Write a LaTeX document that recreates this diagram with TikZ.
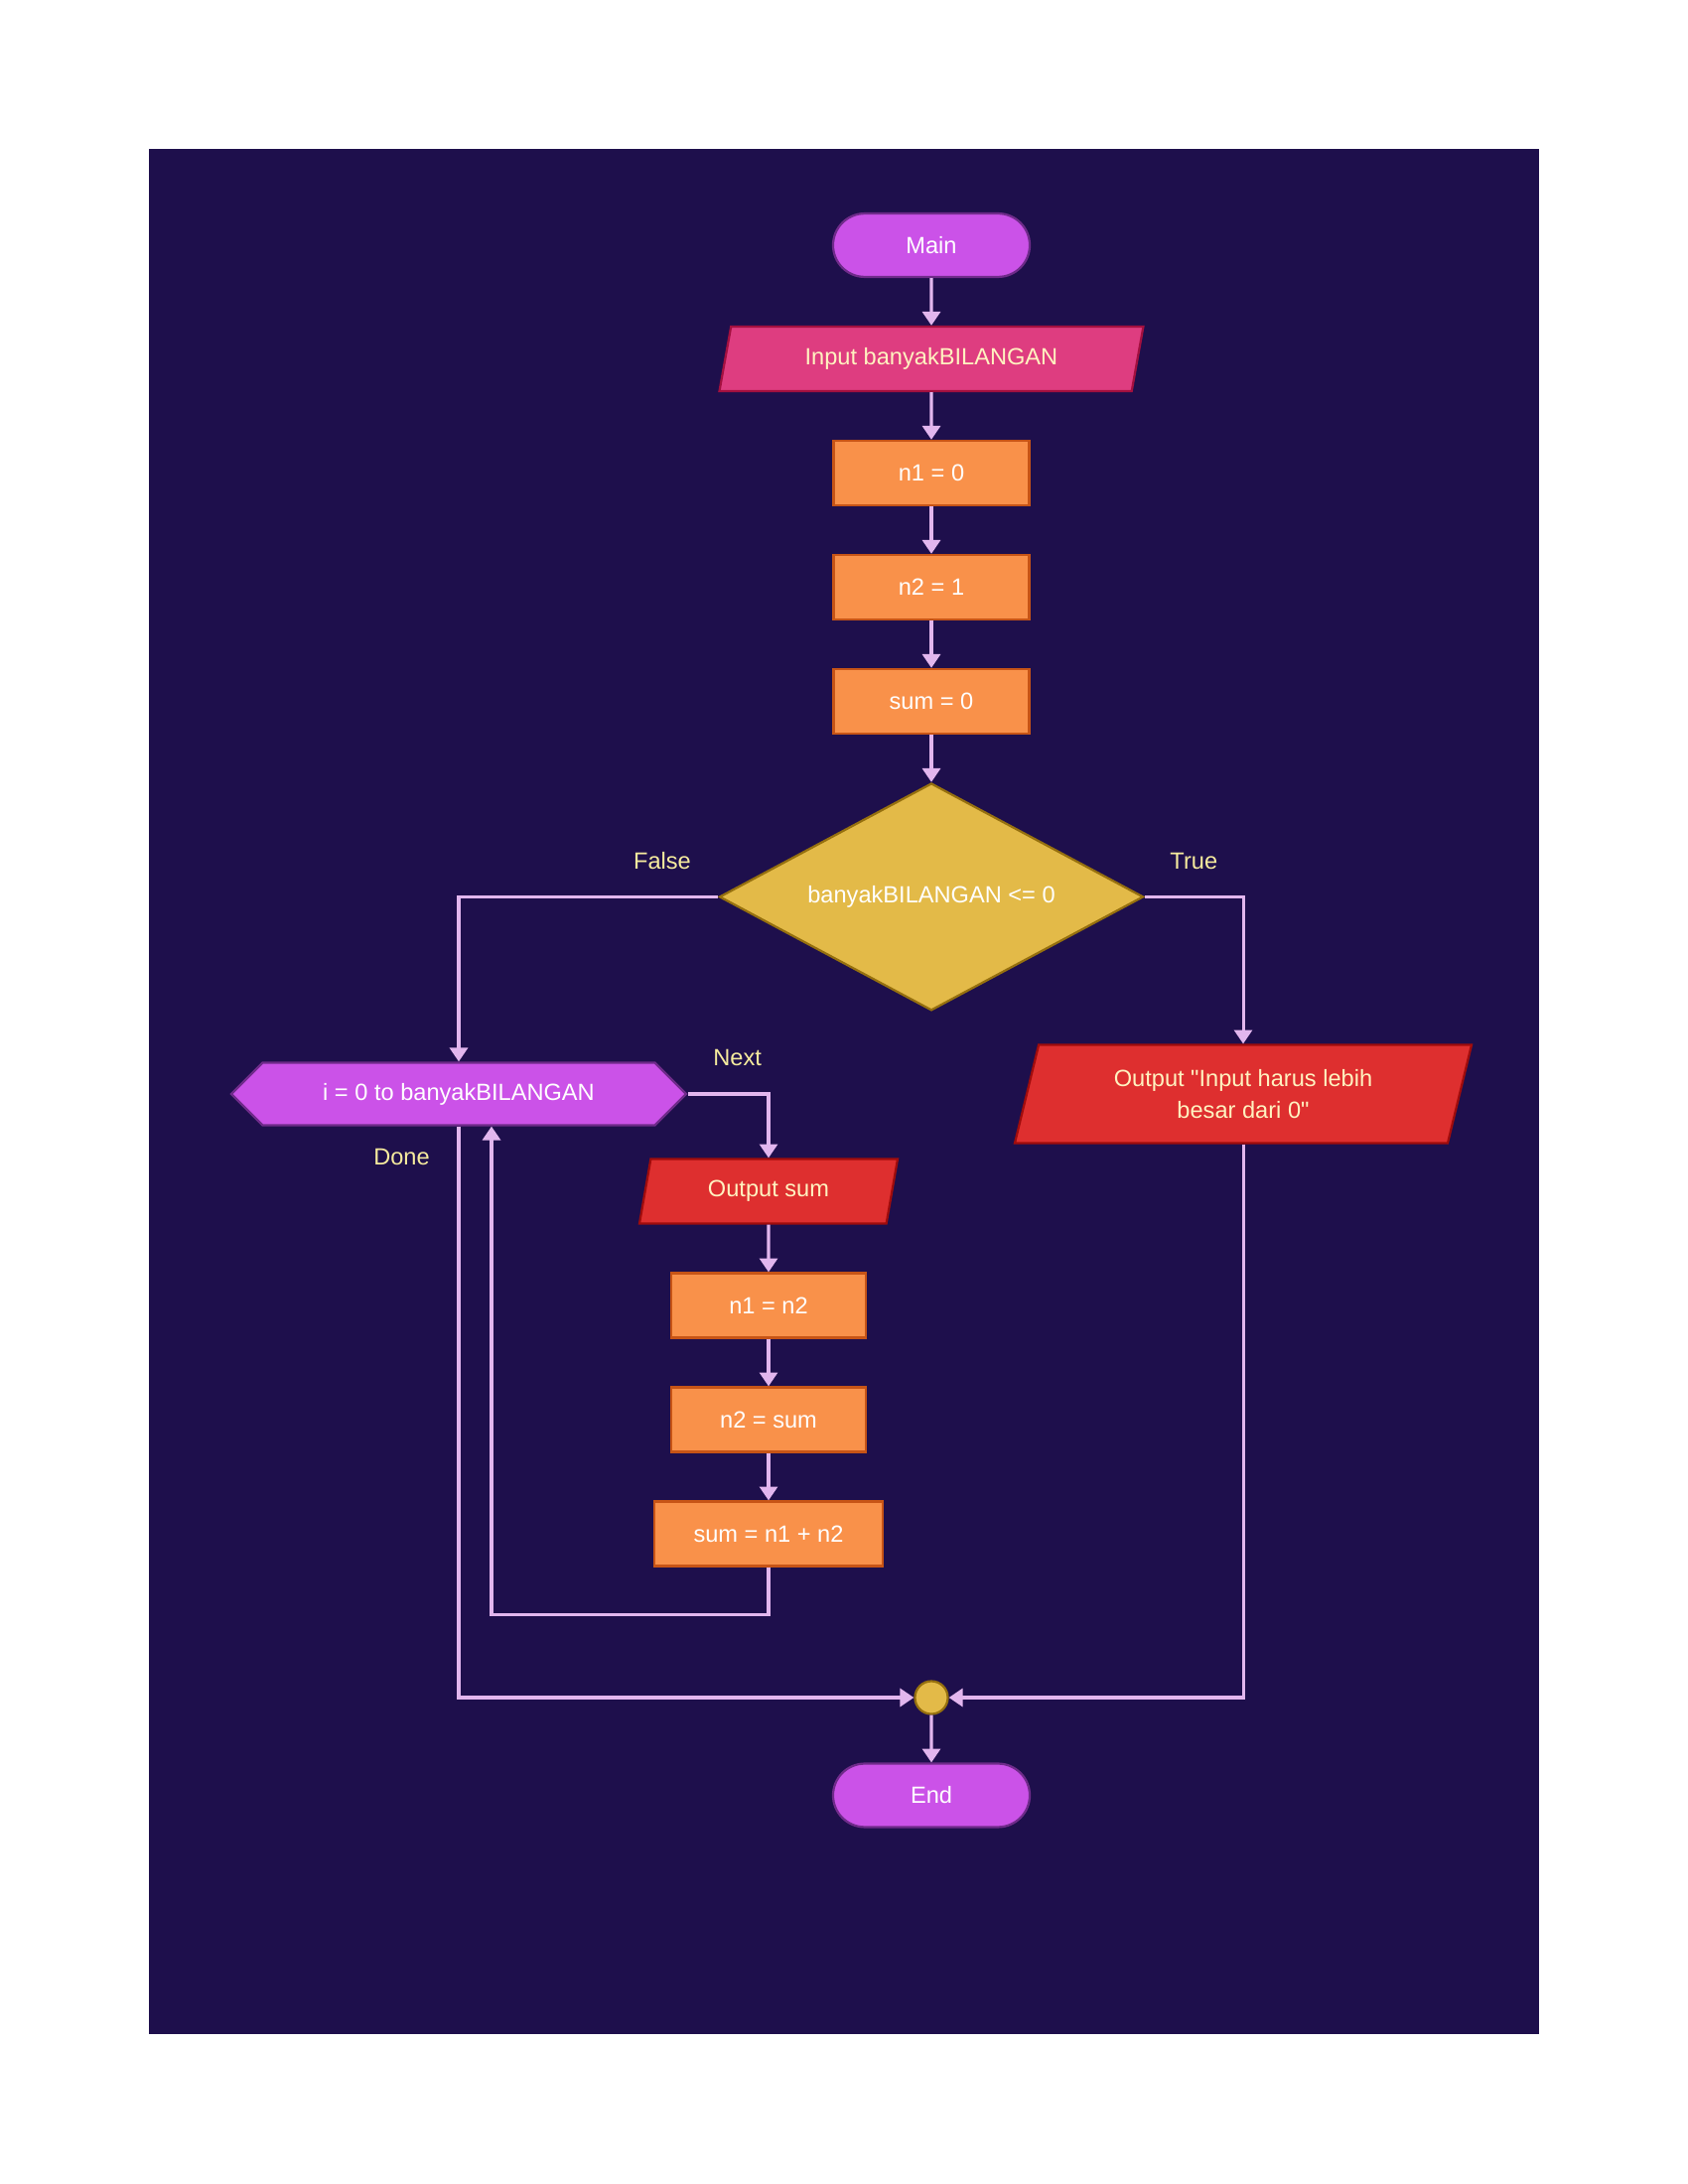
\documentclass[tikz,border=0pt]{standalone}
\usepackage{fontspec}
\setmainfont{Liberation Sans}[Ligatures=TeXOff]
\usepackage{tikz}
\usetikzlibrary{arrows.meta,positioning,calc,shapes.geometric,shapes.misc,shapes.symbols}
\definecolor{nightpurple}{HTML}{1E0F4C}
\definecolor{orchid}{HTML}{CB52E8}
\definecolor{orchidedge}{HTML}{6F2B8A}
\definecolor{rosepink}{HTML}{DE3D80}
\definecolor{rosedge}{HTML}{A3103F}
\definecolor{tangerine}{HTML}{F9914A}
\definecolor{tangedge}{HTML}{C75416}
\definecolor{mustard}{HTML}{E3BA48}
\definecolor{mustedge}{HTML}{96700E}
\definecolor{signalred}{HTML}{DE2F2F}
\definecolor{signaledge}{HTML}{A00C0C}
\definecolor{lilac}{HTML}{E2B6EE}
\definecolor{cream}{HTML}{FFF2C0}
\definecolor{lemon}{HTML}{F6EB9E}

\begin{document}
\begin{tikzpicture}[
  x=0.36pt, y=-0.36pt,
  node distance=17.2pt,
  every node/.style={font=\fontsize{8.5}{11.5}\selectfont,text=white,inner sep=0pt},
  term/.style={rounded rectangle,draw=orchidedge,fill=orchid,line width=0.8pt,minimum width=71.3pt,minimum height=23pt},
  iobox/.style={trapezium,trapezium left angle=62,trapezium right angle=118,trapezium stretches body,line width=0.8pt,text=cream,minimum height=23.4pt},
  stepbox/.style={rectangle,draw=tangedge,fill=tangerine,line width=0.8pt,minimum width=70.9pt,minimum height=23.4pt},
  test/.style={diamond,aspect=1.86,draw=mustedge,fill=mustard,line width=0.8pt,minimum width=153.7pt,minimum height=82.4pt},
  loophex/.style={signal,signal to=west and east,signal pointer angle=90,draw=orchidedge,fill=orchid,line width=0.8pt,minimum width=164.9pt,minimum height=22.7pt},
  joint/.style={circle,draw=mustedge,fill=mustard,line width=0.8pt,minimum size=11.9pt},
  flow/.style={-{Triangle[length=5pt,width=6.5pt]},line width=1.1pt,draw=lilac},
  lbl/.style={text=lemon}
]
\fill[nightpurple] (150,150) rectangle (1550,2049);
\useasboundingbox (0,0) rectangle (1700,2200);

\node[term] (main) at (938,247) {Main};
\node[iobox,draw=rosedge,fill=rosepink,minimum width=153.7pt,below=of main] (inp) {Input banyakBILANGAN};
\node[stepbox,below=of inp] (n1) {n1 = 0};
\node[stepbox,below=of n1] (n2) {n2 = 1};
\node[stepbox,below=of n2] (sum) {sum = 0};
\node[test,below=of sum] (cond) {banyakBILANGAN <= 0};

% loop branch
\node[loophex] (loop) at (462,1102) {i = 0 to banyakBILANGAN};
\node[iobox,draw=signaledge,fill=signalred,minimum width=93.6pt] (outsum) at (774,1200) {Output sum};
\node[stepbox,minimum width=70.6pt,below=of outsum] (shift1) {n1 = n2};
\node[stepbox,minimum width=70.6pt,below=of shift1] (shift2) {n2 = sum};
\node[stepbox,minimum width=82.8pt,below=of shift2] (addup) {sum = n1 + n2};
\coordinate[below=17.2pt of addup.south] (back);

% error branch
\node[iobox,draw=signaledge,fill=signalred,trapezium left angle=64,trapezium right angle=116,minimum width=165.6pt,minimum height=35.6pt,align=center] (warn) at (1252,1102) {Output "Input harus lebih\\besar dari 0"};

\node[joint] (join) at (938,1710) {};
\node[term,below=of join] (stop) {End};

\draw[flow] (main) -- (inp);
\draw[flow] (inp) -- (n1);
\draw[flow] (n1) -- (n2);
\draw[flow] (n2) -- (sum);
\draw[flow] (sum) -- (cond);
\draw[flow] (cond.west) -| node[lbl,pos=0.108,yshift=13pt] {False} (loop.north);
\draw[flow] (cond.east) -| node[lbl,pos=0.25,yshift=13pt] {True} (warn.north);
\draw[flow] (loop.east) -| node[lbl,pos=0.307,yshift=13pt] {Next} (outsum.north);
\draw[flow] (outsum) -- (shift1);
\draw[flow] (shift1) -- (shift2);
\draw[flow] (shift2) -- (addup);
\draw[flow] (addup.south) -- (back) -| ($(loop.south)+(33,0)$);
\draw[flow] (loop.south) |- node[lbl,pos=0.027,xshift=-20.7pt] {Done} (join.west);
\draw[flow] (warn.south) |- (join.east);
\draw[flow] (join) -- (stop);
\end{tikzpicture}
\end{document}
